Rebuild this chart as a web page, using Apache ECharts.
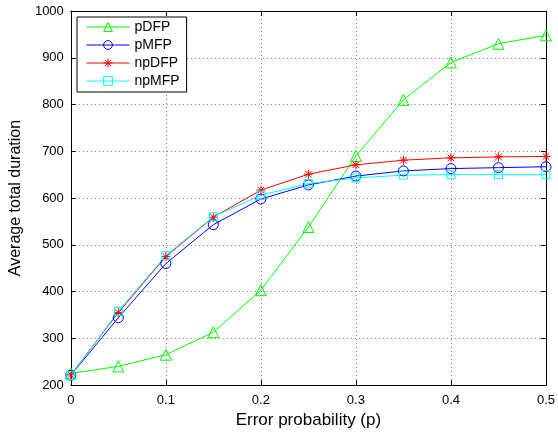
<!DOCTYPE html>
<html>
<head>
<meta charset="utf-8">
<script src="https://cdn.jsdelivr.net/npm/echarts@6/dist/echarts.min.js"></script>
<style>
  html, body { margin: 0; padding: 0; background: #fff; }
  #chart { width: 558px; height: 434px; }
</style>
</head>
<body>
<div id="chart"></div>
<script>
// Error probability values on the x axis
const errorProb = [0, 0.05, 0.1, 0.15, 0.2, 0.25, 0.3, 0.35, 0.4, 0.45, 0.5];

// Average total duration for each scheme
const pDFP  = [225, 240, 265, 313, 403, 538, 690, 810, 890, 930, 948];
const pMFP  = [221, 344, 460, 543, 598, 628, 647, 658, 663, 665, 667];
const npDFP = [222, 355, 475, 559, 617, 651, 671, 681, 686, 688, 689];
const npMFP = [220, 358, 477, 560, 606, 631, 643, 649, 650, 650, 650];

const seriesNames = ['pDFP', 'pMFP', 'npDFP', 'npMFP'];

const FONT = 'Liberation Sans, Arial, sans-serif';
// hollow marker outlines, drawn as thin strokes
const triangle = 'path://M0,-5.5L5.5,4L-5.5,4Z';
const asterisk = 'path://M0,-5L0,5M-5,0L5,0M-3.6,-3.6L3.6,3.6M-3.6,3.6L3.6,-3.6';

function pairs(values) {
  return errorProb.map((x, i) => [x, values[i]]);
}

function lineSeries(name, values, color, symbol, size) {
  return {
    name: name,
    type: 'line',
    data: pairs(values),
    symbol: symbol,
    symbolSize: size,
    showAllSymbol: true,
    lineStyle: { color: color, width: 1 },
    itemStyle: { color: 'rgba(0,0,0,0)', borderColor: color, borderWidth: 1 },
    emphasis: { disabled: true },
    animation: false
  };
}

const chart = echarts.init(document.getElementById('chart'), null, { renderer: 'canvas' });

const tickStyle = { show: true, inside: true, length: 5, lineStyle: { color: '#000', width: 1 } };
const gridLine = { show: true, lineStyle: { color: '#7a7a7a', type: [1, 3], width: 1 } };

chart.setOption({
  backgroundColor: '#fff',
  animation: false,
  textStyle: { fontFamily: FONT },
  grid: { left: 70, right: 9, top: 11, bottom: 47, containLabel: false },
  legend: {
    data: seriesNames,
    orient: 'vertical',
    left: 77,
    top: 17,
    padding: [3, 7, 4, 9],
    itemGap: 4,
    itemWidth: 43,
    itemHeight: 11,
    borderColor: '#000',
    borderWidth: 1,
    backgroundColor: '#fff',
    lineStyle: { width: 1 },
    itemStyle: { borderWidth: 1 },
    textStyle: { fontSize: 14, color: '#000', fontFamily: FONT },
    selectedMode: false
  },
  xAxis: [
    {
      type: 'value', min: 0, max: 0.5, interval: 0.1,
      name: 'Error probability (p)', nameLocation: 'middle', nameGap: 24,
      nameTextStyle: { fontSize: 17, color: '#000', fontFamily: FONT },
      axisLine: { show: true, onZero: false, lineStyle: { color: '#000', width: 1 } },
      axisTick: tickStyle,
      axisLabel: { fontSize: 13, color: '#000', margin: 9, fontFamily: FONT },
      splitLine: gridLine
    },
    {
      type: 'value', min: 0, max: 0.5, interval: 0.1, position: 'top',
      axisLine: { show: true, onZero: false, lineStyle: { color: '#000', width: 1 } },
      axisTick: tickStyle,
      axisLabel: { show: false },
      splitLine: { show: false }
    }
  ],
  yAxis: [
    {
      type: 'value', min: 200, max: 1000, interval: 100,
      name: 'Average total duration', nameLocation: 'middle', nameGap: 41,
      nameTextStyle: { fontSize: 16, color: '#000', fontFamily: FONT },
      axisLine: { show: true, onZero: false, lineStyle: { color: '#000', width: 1 } },
      axisTick: tickStyle,
      axisLabel: { fontSize: 13, color: '#000', margin: 7, fontFamily: FONT, formatter: v => String(v) },
      splitLine: gridLine
    },
    {
      type: 'value', min: 200, max: 1000, interval: 100, position: 'right',
      axisLine: { show: true, onZero: false, lineStyle: { color: '#000', width: 1 } },
      axisTick: tickStyle,
      axisLabel: { show: false },
      splitLine: { show: false }
    }
  ],
  series: [
    lineSeries('pDFP', pDFP, '#00ff00', triangle, 11),
    lineSeries('pMFP', pMFP, '#0000ff', 'circle', 10),
    lineSeries('npDFP', npDFP, '#ff0000', asterisk, 9),
    lineSeries('npMFP', npMFP, '#00ffff', 'rect', 8)
  ]
});
</script>
</body>
</html>
